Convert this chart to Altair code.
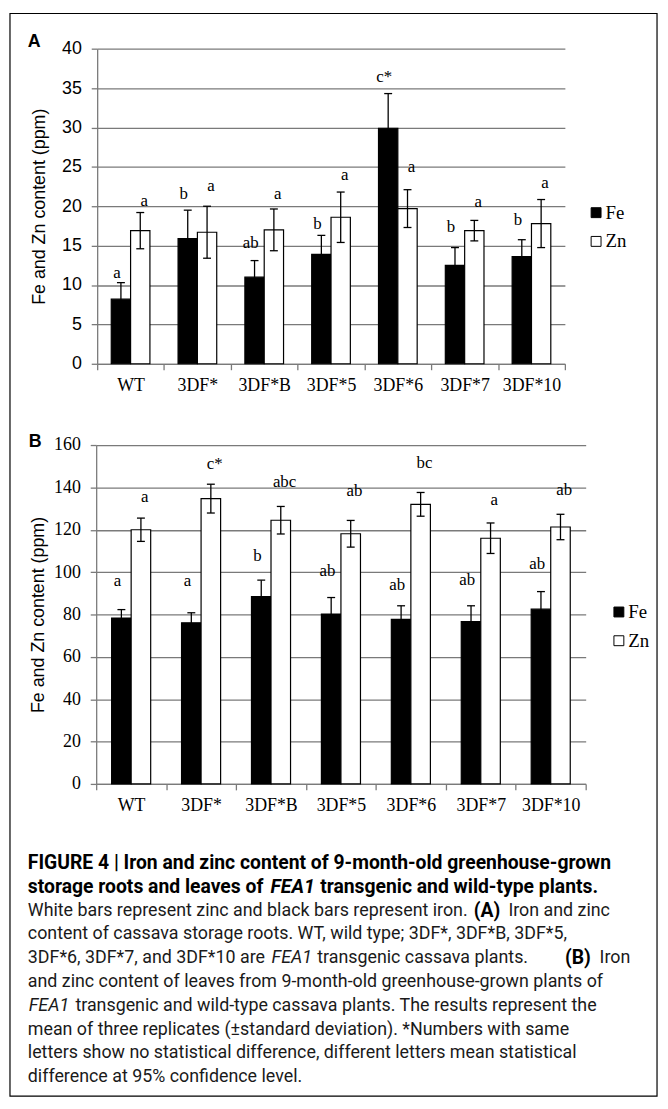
import altair as alt
import pandas as pd

# ---------------- data ----------------
groups = ["WT", "3DF*", "3DF*B", "3DF*5", "3DF*6", "3DF*7", "3DF*10"]
series = ["Fe", "Zn"]

# Panel A: storage roots (ppm)
fe_a = [8.2, 15.9, 11.0, 13.9, 29.9, 12.5, 13.6]
fe_a_sd = [2.1, 3.6, 2.1, 2.4, 4.4, 2.25, 2.15]
zn_a = [16.9, 16.7, 17.0, 18.6, 19.7, 16.9, 17.8]
zn_a_sd = [2.3, 3.3, 2.65, 3.2, 2.4, 1.3, 3.05]
fe_a_letters = ["a", "b", "ab", "b", "c*", "b", "b"]
fe_a_letter_y = [11.55, 21.6, 15.3, 17.8, 36.4, 17.35, 18.3]
zn_a_letters = ["a", "a", "a", "a", "a", "a", "a"]
zn_a_letter_y = [20.6, 22.5, 21.6, 23.9, 25.0, 20.5, 22.9]

# Panel B: leaves (ppm)
fe_b = [78.3, 76.1, 88.4, 80.2, 77.7, 76.6, 82.5]
fe_b_sd = [4.0, 4.7, 7.8, 7.8, 6.4, 7.5, 8.3]
zn_b = [120.0, 134.7, 124.5, 118.1, 132.0, 116.0, 121.3]
zn_b_sd = [5.5, 6.8, 6.5, 6.3, 5.6, 7.2, 6.0]
fe_b_letters = ["a", "a", "b", "ab", "ab", "ab", "ab"]
fe_b_letter_y = [95.8, 95.8, 107.5, 100.3, 93.8, 96.1, 104.0]
zn_b_letters = ["a", "c*", "abc", "ab", "bc", "a", "ab"]
zn_b_letter_y = [135.3, 151.0, 142.7, 138.4, 151.6, 134.0, 138.8]

y_title = "Fe and Zn content (ppm)"

caption_lines = [
    [("FIGURE 4 | Iron and zinc content of 9-month-old greenhouse-grown", "b")],
    [("storage roots and leaves of", "b"), ("FEA1", "bi"), ("transgenic and wild-type plants.", "b")],
    [("White bars represent zinc and black bars represent iron.", "n"), ("(A)", "b"), ("Iron and zinc", "n")],
    [("content of cassava storage roots. WT, wild type; 3DF*, 3DF*B, 3DF*5,", "n")],
    [("3DF*6, 3DF*7, and 3DF*10 are", "n"), ("FEA1", "i"), ("transgenic cassava plants.", "n"), ("(B)", "b"), ("Iron", "n")],
    [("and zinc content of leaves from 9-month-old greenhouse-grown plants of", "n")],
    [("FEA1", "i"), ("transgenic and wild-type cassava plants. The results represent the", "n")],
    [("mean of three replicates (\u00b1standard deviation). *Numbers with same", "n")],
    [("letters show no statistical difference, different letters mean statistical", "n")],
    [("difference at 95% confidence level.", "n")],
]

# ---------------- layout (pixels in plot coords) ----------------
W, H = 658, 1098
GRAY = "#7a7a7a"


def to_long(fe, fe_sd, zn, zn_sd, fe_l, fe_ly, zn_l, zn_ly):
    rows = []
    for i, g in enumerate(groups):
        rows.append(dict(group=g, series="Fe", value=fe[i], lo=fe[i] - fe_sd[i],
                         hi=fe[i] + fe_sd[i], letter=fe_l[i], ly=fe_ly[i]))
        rows.append(dict(group=g, series="Zn", value=zn[i], lo=zn[i] - zn_sd[i],
                         hi=zn[i] + zn_sd[i], letter=zn_l[i], ly=zn_ly[i]))
    return pd.DataFrame(rows)


def panel(df, ymax, ystep, y_rng, x_rng, pad_outer, ylab_font, title_pad, leg_xy):
    def xs():
        return alt.Scale(domain=groups, range=x_rng, paddingInner=0, paddingOuter=0)

    def xos():
        return alt.Scale(domain=series, paddingInner=0, paddingOuter=pad_outer)

    def ys():
        return alt.Scale(domain=[0, ymax], range=y_rng, nice=False, zero=True)

    x_axis = alt.Axis(orient="bottom", offset=y_rng[0] - H, title=None, labelAngle=0,
                      labelFont="Liberation Serif", labelFontSize=18, labelColor="black",
                      labelPadding=7, tickBand="extent", tickSize=6, tickWidth=1.3,
                      tickColor=GRAY, domainColor=GRAY, domainWidth=1.3, grid=False)
    y_axis = alt.Axis(orient="left", offset=-x_rng[0], values=list(range(0, ymax + 1, ystep)),
                      grid=True, gridColor=GRAY, gridWidth=1.3, domainColor=GRAY,
                      domainWidth=1.3, tickColor=GRAY, tickSize=6, tickWidth=1.3,
                      labelFont=ylab_font, labelFontSize=18, labelColor="black",
                      labelPadding=10, title=y_title, titleFont="Liberation Sans",
                      titleFontSize=18, titleFontWeight="normal", titleColor="black",
                      titlePadding=title_pad)
    base = alt.Chart(df)
    bars = base.mark_bar(stroke="black", strokeWidth=1.2, opacity=1).encode(
        x=alt.X("group:N", scale=xs(), axis=x_axis),
        xOffset=alt.XOffset("series:N", scale=xos()),
        y=alt.Y("value:Q", scale=ys(), axis=y_axis, stack=None),
        fill=alt.Fill("series:N", scale=alt.Scale(domain=series, range=["black", "white"]),
                      legend=alt.Legend(title=None, orient="none", legendX=leg_xy[0],
                                        legendY=leg_xy[1], symbolType="square",
                                        symbolSize=100, symbolStrokeColor="black",
                                        symbolStrokeWidth=1, labelFont="Liberation Serif",
                                        labelFontSize=19, labelColor="black", labelOffset=0,
                                        rowPadding=9, padding=0)),
    )
    rules = base.mark_rule(color="black", strokeWidth=1.3, opacity=1).encode(
        x=alt.X("group:N", scale=xs(), axis=None),
        xOffset=alt.XOffset("series:N", scale=xos()),
        y=alt.Y("lo:Q", scale=ys(), axis=None), y2="hi:Q")
    caps_hi = base.mark_tick(color="black", thickness=1.3, size=8, opacity=1).encode(
        x=alt.X("group:N", scale=xs(), axis=None),
        xOffset=alt.XOffset("series:N", scale=xos()),
        y=alt.Y("hi:Q", scale=ys(), axis=None))
    caps_lo = base.mark_tick(color="black", thickness=1.3, size=8, opacity=1).encode(
        x=alt.X("group:N", scale=xs(), axis=None),
        xOffset=alt.XOffset("series:N", scale=xos()),
        y=alt.Y("lo:Q", scale=ys(), axis=None))
    letters = base.mark_text(font="Liberation Serif", fontSize=17, color="black",
                             baseline="middle", align="center").encode(
        x=alt.X("group:N", scale=xs(), axis=None),
        xOffset=alt.XOffset("series:N", scale=xos()),
        y=alt.Y("ly:Q", scale=ys(), axis=None), text="letter:N")
    return [bars, rules, caps_hi, caps_lo, letters]


df_a = to_long(fe_a, fe_a_sd, zn_a, zn_a_sd, fe_a_letters, fe_a_letter_y, zn_a_letters, zn_a_letter_y)
df_b = to_long(fe_b, fe_b_sd, zn_b, zn_b_sd, fe_b_letters, fe_b_letter_y, zn_b_letters, zn_b_letter_y)

layers = []
layers += panel(df_a, 40, 5, [354, 36], [90, 562], 0.728, "Liberation Sans", 13, (584, 192))
layers += panel(df_b, 160, 20, [778, 436], [89, 583], 0.79, "Liberation Serif", 6, (607, 595))

one = alt.Data(values=[{}])


def text_layer(txt, x, y, size, weight="normal", style="normal", font="Roboto", color="black"):
    return alt.Chart(one).mark_text(text=txt, font=font, fontSize=size, fontWeight=weight,
                                    fontStyle=style, align="left", baseline="middle",
                                    color=color).encode(x=alt.value(x), y=alt.value(y))


layers.append(text_layer("A", 20, 29, 18, weight="bold", font="Liberation Sans"))
layers.append(text_layer("B", 21, 433, 18, weight="bold", font="Liberation Sans"))

# caption segment starting x positions (page px) per line
seg_x = [
    [28],
    [28, 273, 323],
    [28, 478, 513],
    [28],
    [28, 274, 320, 570, 605],
    [28],
    [29, 76],
    [28],
    [28],
    [28],
]
for li, segs in enumerate(caption_lines):
    y = 866 + 24 * li - 8
    for si, (txt, st) in enumerate(segs):
        x = seg_x[li][si] - 8
        bold = "b" in st
        layers.append(text_layer(txt, x, y, 19.5 if bold else 18,
                                 weight="bold" if bold else "normal",
                                 style="italic" if "i" in st else "normal",
                                 color="black" if bold else "#1a1a1a"))

frame = alt.Chart(one).mark_rect(fill="white", fillOpacity=0, stroke="black",
                                 strokeWidth=1.2).encode(
    x=alt.value(2), x2=alt.value(655), y=alt.value(0.5), y2=alt.value(1093))
layers.append(frame)

chart = alt.layer(*layers).resolve_scale(
    x="independent", y="independent", fill="independent", xOffset="independent"
).properties(
    width=W, height=H, autosize=alt.AutoSizeParams(type="none"), padding=0
).configure_view(stroke=None)

chart.save("out.html", embed_options={"renderer": "svg", "actions": False})
